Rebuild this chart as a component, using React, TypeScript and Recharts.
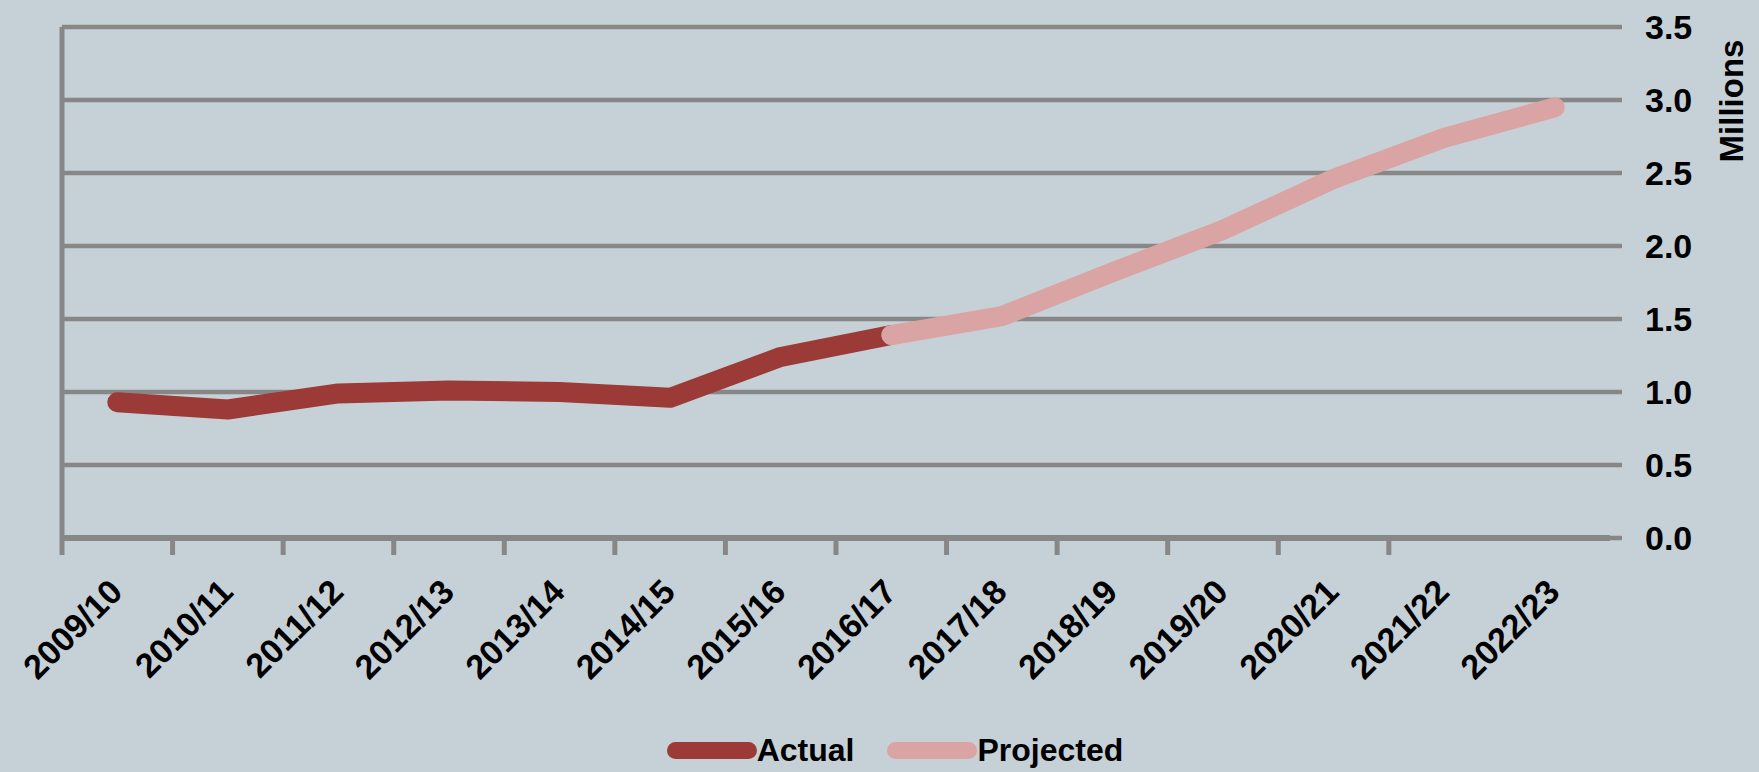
import React from 'react';
import { LineChart, Line, XAxis, YAxis, CartesianGrid, Legend } from 'recharts';

const categories = [
  '2009/10', '2010/11', '2011/12', '2012/13', '2013/14', '2014/15', '2015/16',
  '2016/17', '2017/18', '2018/19', '2019/20', '2020/21', '2021/22', '2022/23',
];
// millions, 2009/10 .. 2016/17
const actual = [0.93, 0.88, 0.99, 1.01, 1.0, 0.96, 1.24, 1.39];
// millions, 2016/17 .. 2022/23
const projected = [1.39, 1.52, 1.82, 2.11, 2.46, 2.74, 2.95];
const projectedStart = 7;
const yTicks = [0, 0.5, 1, 1.5, 2, 2.5, 3, 3.5];

const data = categories.map((year, i) => ({
  year,
  actual: i < actual.length ? actual[i] : null,
  projected: i >= projectedStart ? projected[i - projectedStart] : null,
}));

const BG = '#c6d1d7';
const GRID = '#878787';
const ACTUAL = '#9c3a37';
const PROJECTED = '#d9a4a3';
const FONT = '"Liberation Sans", Arial, sans-serif';
const HALF_BAND = 55.3;

// eslint-disable-next-line @typescript-eslint/no-explicit-any
const XTick = ({ x, y, payload, index }: any) => (
  <g>
    {index < categories.length - 1 && (
      <line x1={x - HALF_BAND} x2={x - HALF_BAND} y1={y} y2={y + 17} stroke={GRID} strokeWidth={5} />
    )}
    <text
      transform={`translate(${x + 7},${y + 56}) rotate(-45)`}
      textAnchor="end"
      fontFamily={FONT}
      fontWeight="bold"
      fontSize={34}
      fill="#000"
    >
      {payload.value}
    </text>
  </g>
);

// eslint-disable-next-line @typescript-eslint/no-explicit-any
const MillionsLabel = ({ viewBox }: any) => {
  const x = viewBox.x + viewBox.width - 2;
  const y = viewBox.y + 74;
  return (
    <text
      transform={`translate(${x},${y}) rotate(-90)`}
      textAnchor="middle"
      fontFamily={FONT}
      fontWeight="bold"
      fontSize={33}
      fill="#000"
    >
      Millions
    </text>
  );
};

const LegendContent = () => {
  const items = [
    { name: 'Actual', color: ACTUAL },
    { name: 'Projected', color: PROJECTED },
  ];
  return (
    <div style={{ display: 'flex', justifyContent: 'center', alignItems: 'center', paddingLeft: 31, height: 40 }}>
      {items.map((it, i) => (
        <div key={it.name} style={{ display: 'flex', alignItems: 'center', marginLeft: i ? 33 : 0 }}>
          <div style={{ width: 90, height: 17, borderRadius: 9, background: it.color }} />
          <span style={{ fontFamily: FONT, fontWeight: 'bold', fontSize: 32, color: '#000', lineHeight: '40px' }}>
            {it.name}
          </span>
        </div>
      ))}
    </div>
  );
};

export default function App() {
  return (
    <div style={{ position: 'absolute', left: 0, top: 0, width: 1759, height: 772, background: BG }}>
      <LineChart width={1759} height={772} data={data} margin={{ top: 27, right: 14, bottom: 2, left: 48 }}>
        <CartesianGrid yAxisId="R" vertical={false} stroke={GRID} strokeWidth={4.5} />
        <XAxis
          dataKey="year"
          interval={0}
          padding={{ left: HALF_BAND, right: HALF_BAND }}
          axisLine={{ stroke: GRID, strokeWidth: 6 }}
          tickLine={false}
          tickSize={0}
          tickMargin={0}
          height={192}
          tick={(p) => <XTick {...p} />}
        />
        <YAxis
          yAxisId="L"
          orientation="left"
          domain={[0, 3.5]}
          ticks={yTicks}
          width={14}
          tickSize={14}
          axisLine={{ stroke: GRID, strokeWidth: 5 }}
          tickLine={{ stroke: GRID, strokeWidth: 4.5 }}
          tickFormatter={() => ''}
        />
        <YAxis
          yAxisId="R"
          orientation="right"
          domain={[0, 3.5]}
          ticks={yTicks}
          width={135}
          tickSize={12}
          tickMargin={23}
          axisLine={false}
          tickLine={{ stroke: GRID, strokeWidth: 4.5 }}
          tickFormatter={(v: number) => v.toFixed(1)}
          tick={{ fontFamily: FONT, fontWeight: 'bold', fontSize: 34, fill: '#000' }}
          label={{ content: (p: any) => <MillionsLabel {...p} /> }}
        />
        <Legend verticalAlign="bottom" height={40} wrapperStyle={{ left: 0, width: 1759 }} content={() => <LegendContent />} />
        <Line
          yAxisId="R"
          dataKey="actual"
          name="Actual"
          type="linear"
          stroke={ACTUAL}
          strokeWidth={20}
          strokeLinecap="round"
          strokeLinejoin="round"
          dot={false}
          activeDot={false}
          isAnimationActive={false}
        />
        <Line
          yAxisId="R"
          dataKey="projected"
          name="Projected"
          type="linear"
          stroke={PROJECTED}
          strokeWidth={20}
          strokeLinecap="round"
          strokeLinejoin="round"
          dot={false}
          activeDot={false}
          isAnimationActive={false}
        />
      </LineChart>
    </div>
  );
}
